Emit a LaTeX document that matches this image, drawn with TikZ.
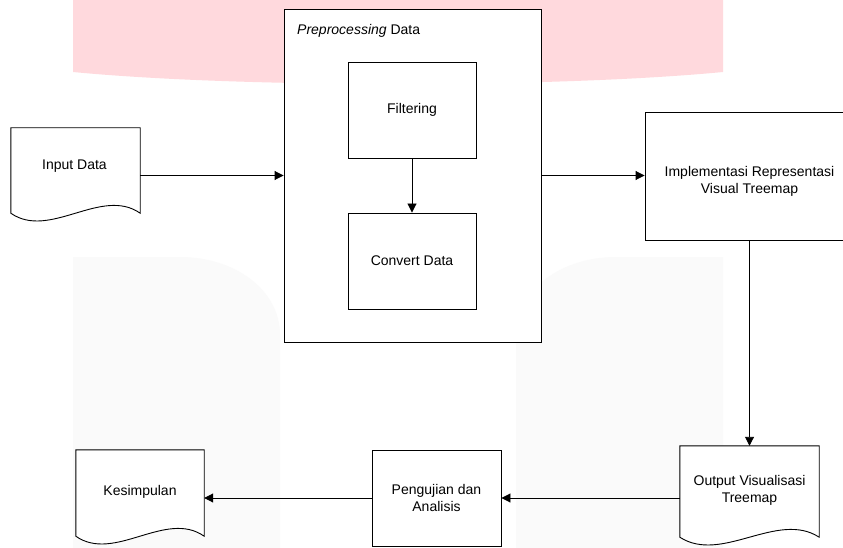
\documentclass[tikz,border=0pt]{standalone}
\usepackage{fontspec}
\setmainfont{Liberation Sans}
\usetikzlibrary{arrows.meta,calc}
\definecolor{wmpink}{HTML}{FFD9DD}
\definecolor{wmgray}{HTML}{FAFAFA}
\begin{document}
\begin{tikzpicture}[x=1pt,y=-1pt,
  line/.style={draw=black,line width=0.9pt},
  arr/.style={line,-{Triangle[length=9pt,width=9pt]}},
  txt/.style={inner sep=0pt,align=center,font=\fontsize{14}{17}\selectfont},
  box/.style={line,fill=white,rectangle,inner sep=0pt,align=center,font=\fontsize{14}{17}\selectfont},
  docbox/.style={rectangle,inner sep=0pt,draw=none},
]
\useasboundingbox (0,0) rectangle (843,548);
\clip (0,0) rectangle (843,548);
\fill[white] (0,0) rectangle (843,548);
% watermark
\fill[wmpink] (73,0) -- (73,72) .. controls (240,88) and (556,88) .. (723,72) -- (723,0) -- cycle;
\fill[wmgray] (73,548) -- (73,257) -- (180,257) .. controls (235,257) and (280,290) .. (280,335) -- (280,548) -- cycle;
\fill[wmgray] (723,548) -- (723,257) -- (616,257) .. controls (561,257) and (516,290) .. (516,335) -- (516,548) -- cycle;

% preprocessing group
\node[box,minimum width=257pt,minimum height=333pt] (pre) at (412.5,175.5) {};
\node[txt,anchor=base west] (pretxt) at (297,35) {\textit{Preprocessing} Data};
\node[box,minimum width=128pt,minimum height=96pt] (filt) at (412,110) {Filtering};
\node[box,minimum width=128pt,minimum height=96pt] (conv) at (412,261) {Convert Data};

% other boxes
\node[box,minimum width=209pt,minimum height=128pt] (impl) at (749.5,176) {};
\node[txt] (impltxt) at (749.5,181.5) {Implementasi Representasi\\Visual Treemap};
\node[box,minimum width=129pt,minimum height=96pt] (peng) at (436.5,498) {Pengujian dan\\Analisis};

% document shapes
\node[docbox,minimum width=129pt,minimum height=85pt] (input) at (75.5,170.5) {};
\node[docbox,minimum width=139pt,minimum height=91pt] (output) at (749.5,491.5) {};
\node[docbox,minimum width=128pt,minimum height=86pt] (kes) at (140,493) {};
\foreach \d in {input,output,kes}{
  \draw[line,fill=white] (\d.south west) -- (\d.north west) -- (\d.north east) -- (\d.south east)
    .. controls ($(\d.south west)!0.7!(\d.south east)+(0,-27)$) and ($(\d.south west)!0.3!(\d.south east)+(0,27)$) .. (\d.south west) -- cycle;
}
\node[txt] (inputtxt) at (74.5,166.4) {Input Data};
\node[txt] (outtxt) at (749.5,490) {Output Visualisasi\\Treemap};
\node[txt] (kestxt) at (140,492) {Kesimpulan};

% connectors
\draw[arr] (pre.west -| input.east) -- (pre.west);
\draw[arr] (filt) -- (conv);
\draw[arr] (pre.east) -- (pre.east -| impl.west);
\draw[arr] (impl.south) -- (output.north);
\draw[arr] (peng.east -| output.west) -- (peng.east);
\draw[arr] (peng.west) -- (peng.west -| kes.east);
\end{tikzpicture}
\end{document}
